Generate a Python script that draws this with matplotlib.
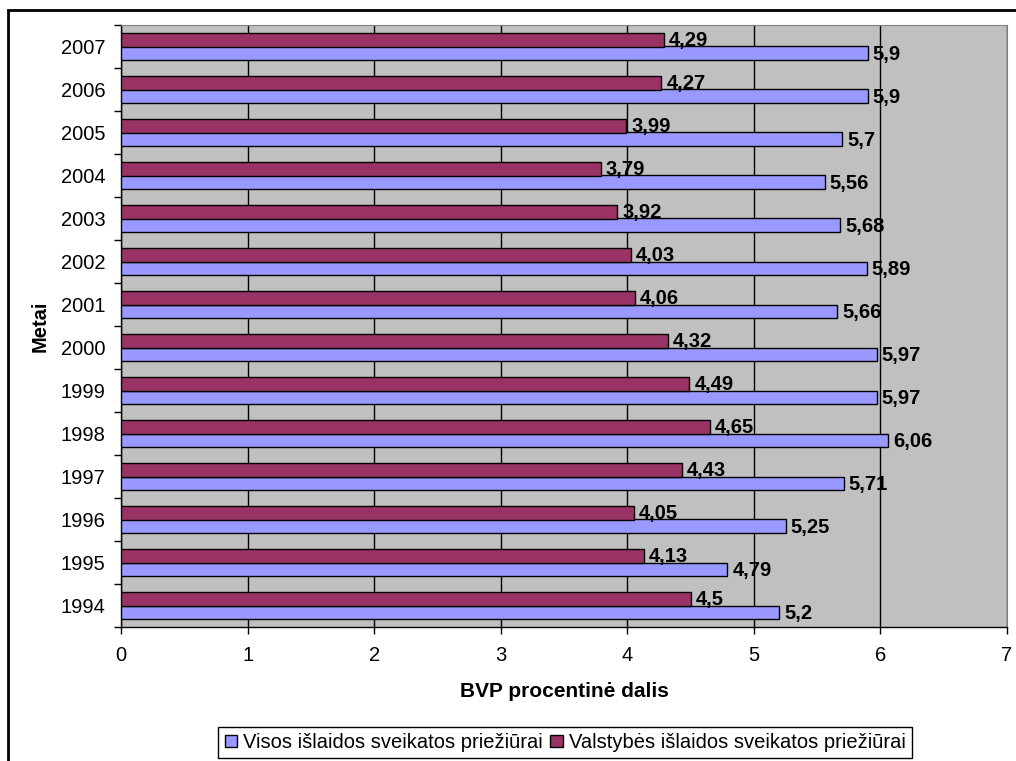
import matplotlib.pyplot as plt
import matplotlib.patches as mpatches
import numpy as np

years = [1994, 1995, 1996, 1997, 1998, 1999, 2000, 2001, 2002, 2003, 2004, 2005, 2006, 2007]
visos = [5.2, 4.79, 5.25, 5.71, 6.06, 5.97, 5.97, 5.66, 5.89, 5.68, 5.56, 5.7, 5.9, 5.9]
valstybes = [4.5, 4.13, 4.05, 4.43, 4.65, 4.49, 4.32, 4.06, 4.03, 3.92, 3.79, 3.99, 4.27, 4.29]

series_names = ['Visos išlaidos sveikatos priežiūrai', 'Valstybės išlaidos sveikatos priežiūrai']
colors = ['#9999FF', '#993366']

plt.rcParams['font.family'] = ['Liberation Sans', 'DejaVu Sans']
fs = 14.5

fig = plt.figure(figsize=(10.16, 7.61), dpi=100)
ax = fig.add_axes([121 / 1016, 1 - 627 / 761, (1007 - 121) / 1016, (627 - 25) / 761])

y = np.arange(len(years))
h = 0.31
b1 = ax.barh(y - h / 2, visos, height=h, color=colors[0], edgecolor='black', linewidth=1, zorder=3,
             label=series_names[0])
b2 = ax.barh(y + h / 2, valstybes, height=h, color=colors[1], edgecolor='black', linewidth=1, zorder=3,
             label=series_names[1])

def fmt(v):
    return f'{v:g}'.replace('.', ',')

for bars, vals in ((b1, visos), (b2, valstybes)):
    for bar, v in zip(bars, vals):
        ax.text(v + 0.04, bar.get_y() + bar.get_height() / 2 - 0.02, fmt(v),
                ha='left', va='center', fontsize=fs, fontweight='bold', zorder=4)

ax.set_facecolor('#C0C0C0')
ax.set_xlim(0, 7)
ax.set_ylim(-0.5, len(years) - 0.5)
ax.set_xticks(range(8))
ax.xaxis.grid(True, color='black', linewidth=1, zorder=1)
ax.set_axisbelow(True)

ax.set_yticks(y)
ax.set_yticklabels([str(v) for v in years])
ax.set_yticks(np.arange(len(years) + 1) - 0.5, minor=True)
ax.tick_params(axis='y', which='major', length=0, labelsize=fs, pad=11)
ax.tick_params(axis='y', which='minor', length=5, width=1, direction='out')
ax.tick_params(axis='x', which='major', length=5, width=1, direction='out', labelsize=fs, pad=9)

for side in ('top', 'right'):
    ax.spines[side].set_color('#808080')
    ax.spines[side].set_linewidth(0.8)
ax.spines['left'].set_linewidth(1)
ax.spines['bottom'].set_linewidth(1)

ax.set_xlabel('BVP procentinė dalis', fontsize=15, fontweight='bold', labelpad=12)
ax.set_ylabel('Metai', fontsize=fs, fontweight='bold', labelpad=8)

# outer chart frame, running off the right and bottom edges
fig.patches.append(mpatches.Rectangle((8 / 1016, -0.1), 1.2, 1.1 - 10 / 761, transform=fig.transFigure,
                                      fill=False, edgecolor='black', linewidth=2))

fig.legend(handles=[b1, b2], labels=series_names, loc='upper center',
           bbox_to_anchor=(565 / 1016, 1 - 717 / 761), ncol=2, fontsize=fs,
           frameon=True, fancybox=False, edgecolor='black', framealpha=1,
           handlelength=0.6, handleheight=0.6, handletextpad=0.3, columnspacing=0.4,
           borderpad=0.3)

fig.savefig('out.png', dpi=100)
